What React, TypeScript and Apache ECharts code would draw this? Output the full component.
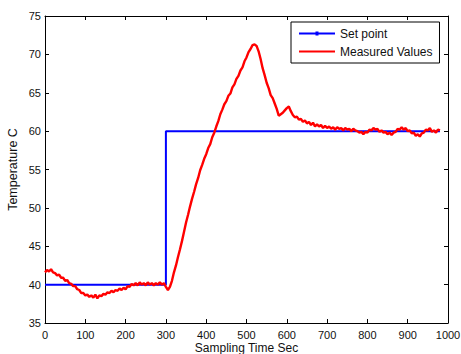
import React, { useEffect, useRef } from "react";
import * as echarts from "echarts";

const xTicks = [0, 100, 200, 300, 400, 500, 600, 700, 800, 900, 1000];
const setPointTime = [0, 300, 300, 980];
const setPointValue = [40, 40, 60, 60];
const measuredTime = [
  0, 5, 10, 15, 20, 25, 30, 35, 40, 45, 50, 55, 60, 65, 70, 75, 80, 85, 90, 95,
  100, 105, 110, 115, 120, 125, 130, 135, 140, 145, 150, 155, 160, 165, 170, 175, 180, 185, 190, 195,
  200, 205, 210, 215, 220, 225, 230, 235, 240, 245, 250, 255, 260, 265, 270, 275, 280, 285, 290, 295,
  300, 305, 310, 315, 320, 325, 330, 335, 340, 345, 350, 355, 360, 365, 370, 375, 380, 385, 390, 395,
  400, 405, 410, 415, 420, 425, 430, 435, 440, 445, 450, 455, 460, 465, 470, 475, 480, 485, 490, 495,
  500, 505, 510, 515, 520, 525, 530, 535, 540, 545, 550, 555, 560, 565, 570, 575, 580, 585, 590, 595,
  600, 605, 610, 615, 620, 625, 630, 635, 640, 645, 650, 655, 660, 665, 670, 675, 680, 685, 690, 695,
  700, 705, 710, 715, 720, 725, 730, 735, 740, 745, 750, 755, 760, 765, 770, 775, 780, 785, 790, 795,
  800, 805, 810, 815, 820, 825, 830, 835, 840, 845, 850, 855, 860, 865, 870, 875, 880, 885, 890, 895,
  900, 905, 910, 915, 920, 925, 930, 935, 940, 945, 950, 955, 960, 965, 970, 975, 980,
];
const measuredValue = [
  41.6, 41.9, 41.7, 42.0, 41.6, 41.5, 41.2, 41.3, 40.9, 40.9, 40.5, 40.6, 40.2, 40.1, 39.8, 39.8, 39.4, 39.3, 38.9, 38.9,
  38.6, 38.7, 38.4, 38.6, 38.3, 38.7, 38.2, 38.6, 38.5, 38.8, 38.7, 39.0, 38.9, 39.2, 39.0, 39.3, 39.2, 39.5, 39.3, 39.6,
  39.4, 39.8, 39.7, 40.1, 39.9, 40.2, 39.9, 40.3, 40.0, 40.2, 39.9, 40.3, 40.0, 40.2, 39.9, 40.2, 40.0, 40.3, 40.0, 40.2,
  39.7, 39.3, 39.7, 40.5, 41.6, 42.5, 43.6, 44.6, 45.7, 46.9, 48.1, 49.1, 50.2, 51.2, 52.1, 53.1, 53.9, 54.9, 55.6, 56.4,
  57.0, 57.8, 58.3, 59.2, 59.8, 60.6, 61.3, 62.2, 62.8, 63.5, 63.9, 64.6, 64.9, 65.7, 66.1, 66.8, 67.2, 67.9, 68.3, 69.1,
  69.6, 70.3, 70.7, 71.2, 71.3, 71.1, 70.4, 69.4, 68.2, 67.3, 66.3, 65.6, 64.7, 64.3, 63.6, 62.9, 62.0, 62.2, 62.4, 62.7,
  63.0, 63.2, 62.6, 62.1, 61.8, 61.9, 61.5, 61.6, 61.2, 61.4, 61.0, 61.2, 60.8, 61.1, 60.6, 60.9, 60.6, 60.8, 60.4, 60.7,
  60.4, 60.6, 60.3, 60.5, 60.2, 60.5, 60.3, 60.4, 60.1, 60.4, 60.2, 60.3, 60.0, 60.3, 60.1, 60.0, 59.8, 59.9, 59.6, 59.9,
  59.8, 60.2, 60.1, 60.4, 60.2, 60.3, 59.9, 60.1, 59.8, 59.9, 59.6, 59.8, 59.5, 59.8, 59.9, 60.3, 60.2, 60.5, 60.2, 60.4,
  60.0, 60.1, 59.7, 59.8, 59.4, 59.6, 59.3, 59.7, 59.8, 60.2, 60.1, 60.4, 59.9, 60.1, 59.8, 60.2, 60.1,
];

const font = "'Liberation Sans', Arial, sans-serif";

export default function App() {
  const ref = useRef<HTMLDivElement>(null);
  useEffect(() => {
    if (!ref.current) return;
    const chart = echarts.init(ref.current, null, { renderer: "svg" });
    const axisLine = { show: true, onZero: false, lineStyle: { color: "#000", width: 1 } };
    const axisTick = { show: true, inside: true, length: 4, lineStyle: { color: "#000" } };
    chart.setOption({
      animation: false,
      backgroundColor: "#fff",
      grid: {
        left: 45,
        top: 16,
        width: 403,
        height: 307,
        containLabel: false,
        outerBoundsMode: "none",
      },
      legend: {
        left: 291,
        top: 22,
        orient: "vertical",
        borderColor: "#000",
        borderWidth: 1,
        padding: [4, 7, 4, 8],
        itemGap: 3,
        itemWidth: 36,
        itemHeight: 15,
        textStyle: { fontFamily: font, fontSize: 12, color: "#111", lineHeight: 15 },
        data: [
          {
            name: "Set point",
            icon: "path://M0,6L36,6L36,8L0,8Z M16.5,5L19.5,5L19.5,9L16.5,9Z",
            itemStyle: { color: "#0000ff", borderWidth: 0 },
          },
          {
            name: "Measured Values",
            icon: "path://M0,6L36,6L36,8L0,8Z",
            itemStyle: { color: "#ff0000", borderWidth: 0 },
          },
        ],
      },
      xAxis: [
        {
          type: "value",
          min: 0,
          max: 1000,
          interval: 100,
          axisLine,
          axisTick,
          splitLine: { show: false },
          axisLabel: {
            fontFamily: font,
            fontSize: 11,
            color: "#111",
            margin: 6,
            customValues: xTicks,
            formatter: (v: number) => String(v),
          },
          name: "Sampling Time Sec",
          nameLocation: "middle",
          nameGap: 19,
          nameMoveOverlap: false,
          nameTextStyle: { fontFamily: font, fontSize: 12, color: "#111" },
        },
        {
          type: "value",
          position: "top",
          min: 0,
          max: 1000,
          interval: 100,
          axisLine,
          axisTick,
          splitLine: { show: false },
          axisLabel: { show: false },
        },
      ],
      yAxis: [
        {
          type: "value",
          min: 35,
          max: 75,
          interval: 5,
          axisLine,
          axisTick,
          splitLine: { show: false },
          axisLabel: { fontFamily: font, fontSize: 11, color: "#111", margin: 4 },
          name: "Temperature C",
          nameLocation: "middle",
          nameGap: 26,
          nameMoveOverlap: false,
          nameTextStyle: { fontFamily: font, fontSize: 12.5, color: "#111" },
        },
        {
          type: "value",
          position: "right",
          min: 35,
          max: 75,
          interval: 5,
          axisLine,
          axisTick,
          splitLine: { show: false },
          axisLabel: { show: false },
        },
      ],
      series: [
        {
          name: "Set point",
          type: "line",
          data: setPointTime.map((t, i) => [t, setPointValue[i]]),
          showSymbol: false,
          symbol: "none",
          lineStyle: { color: "#0000ff", width: 2 },
          itemStyle: { color: "#0000ff" },
        },
        {
          name: "Measured Values",
          type: "line",
          data: measuredTime.map((t, i) => [t, measuredValue[i]]),
          showSymbol: false,
          symbol: "none",
          lineStyle: { color: "#ff0000", width: 2.4 },
          itemStyle: { color: "#ff0000" },
        },
      ],
    });
    return () => chart.dispose();
  }, []);
  return <div ref={ref} style={{ width: 461, height: 354, position: "absolute", left: 0, top: 0 }} />;
}
